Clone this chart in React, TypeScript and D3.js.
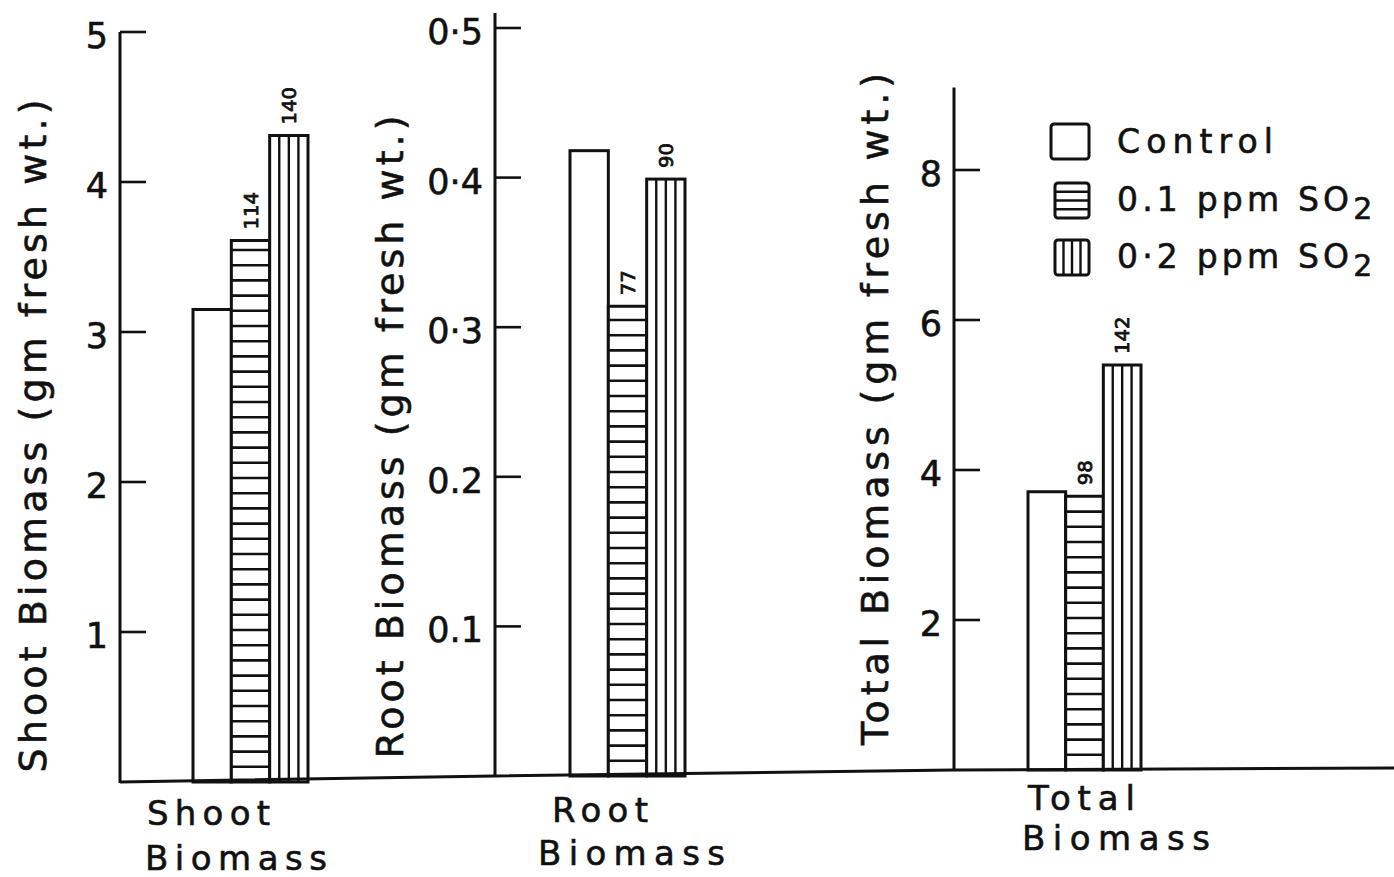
import React from 'react'
import * as d3 from 'd3'

// treatments and the three measured quantities
const treatments = ['Control', '0.1 ppm SO2', '0.2 ppm SO2']
const categories = ['Shoot Biomass', 'Root Biomass', 'Total Biomass']

const shootValues = [3.15, 3.61, 4.31]
const rootValues = [0.418, 0.314, 0.399]
const totalValues = [3.71, 3.65, 5.4]

// percent of control printed above the treated bars
const shootPercent = ['', '114', '140']
const rootPercent = ['', '77', '90']
const totalPercent = ['', '98', '142']

const shootTicks = [1, 2, 3, 4, 5]
const rootTicks = [0.1, 0.2, 0.3, 0.4, 0.5]
const rootTickLabels = ['0.1', '0.2', '0·3', '0·4', '0·5']
const totalTicks = [2, 4, 6, 8]

const FONT = '"DejaVu Sans", "Liberation Sans", sans-serif'
const INK = '#111'

const panels = [
  {
    key: 'shoot', values: shootValues, pct: shootPercent, ticks: shootTicks,
    tickLabels: shootTicks.map(String), domain: [0, 5], axisTopValue: 5,
    axisX: 120, yRange: [782, 32], barRange: [193, 308],
    title: 'Shoot Biomass (gm fresh wt.)', titleX: 33, titleY: 436, titleLen: 673,
    cat: [['Shoot', 147, 825, 123], ['Biomass', 145, 870, 182]],
  },
  {
    key: 'root', values: rootValues, pct: rootPercent, ticks: rootTicks,
    tickLabels: rootTickLabels, domain: [0, 0.5], axisTopValue: 0.51,
    axisX: 495, yRange: [776, 28], barRange: [570, 685],
    title: 'Root Biomass (gm fresh wt.)', titleX: 390, titleY: 437, titleLen: 643,
    cat: [['Root', 552, 822, 96], ['Biomass', 538, 865, 187]],
  },
  {
    key: 'total', values: totalValues, pct: totalPercent, ticks: totalTicks,
    tickLabels: totalTicks.map(String), domain: [0, 8], axisTopValue: 9.1,
    axisX: 954, yRange: [770, 170], barRange: [1028, 1141],
    title: 'Total Biomass (gm fresh wt.)', titleX: 875, titleY: 409, titleLen: 672,
    cat: [['Total', 1028, 810, 107], ['Biomass', 1022, 850, 188]],
  },
]

// scanned lettering is a bit heavier than the plain font
const inkText = { fill: INK, stroke: INK, strokeWidth: 0.6, fontFamily: FONT }

function Hatch({ kind, x, y, w, h, step }: any) {
  if (kind === 1) {
    const ys = d3.range(y + h - step, y + 4, -step)
    return <g>{ys.map((yy, i) => <line key={i} x1={x} x2={x + w} y1={yy} y2={yy} stroke={INK} strokeWidth={2.6} />)}</g>
  }
  if (kind === 2) {
    const xs = [1, 2, 3].map(i => x + (w * i) / 4)
    return <g>{xs.map((xx, i) => <line key={i} x1={xx} x2={xx} y1={y} y2={y + h} stroke={INK} strokeWidth={2.4} />)}</g>
  }
  return null
}

function Panel({ p }: any) {
  const y = d3.scaleLinear().domain(p.domain).range(p.yRange)
  const x = d3.scaleBand<number>().domain([0, 1, 2]).range(p.barRange).padding(0)
  const y0 = y(0)
  return (
    <g>
      {/* axis */}
      <line x1={p.axisX} x2={p.axisX} y1={y(p.axisTopValue)} y2={y0 + 1} stroke={INK} strokeWidth={3} />
      {p.ticks.map((t: number, i: number) => (
        <g key={i}>
          <line x1={p.axisX} x2={p.axisX + 26} y1={y(t)} y2={y(t)} stroke={INK} strokeWidth={2.6} />
          <text x={p.axisX - 12} y={y(t) + 4} textAnchor="end" dominantBaseline="central"
            fontSize={35} {...inkText}>{p.tickLabels[i]}</text>
        </g>
      ))}
      {/* bars */}
      {p.values.map((v: number, i: number) => {
        const bx = x(i) as number
        const bw = x.bandwidth()
        const top = y(v)
        return (
          <g key={i}>
            <rect x={bx} y={top} width={bw} height={y0 - top} fill="#fff" stroke={INK} strokeWidth={3} />
            <Hatch kind={i} x={bx} y={top} w={bw} h={y0 - top} step={15.2} />
            {p.pct[i] && (
              <text transform={`translate(${bx + bw / 2},${top - 11}) rotate(-90)`} dominantBaseline="central"
                fontSize={19} {...inkText} strokeWidth={0.8} textLength={p.pct[i].length * 12.5}
                lengthAdjust="spacingAndGlyphs">{p.pct[i]}</text>
            )}
          </g>
        )
      })}
      {/* y title */}
      <text transform={`translate(${p.titleX},${p.titleY}) rotate(-90)`} textAnchor="middle"
        dominantBaseline="central" fontSize={38} {...inkText}
        textLength={p.titleLen} lengthAdjust="spacing">{p.title}</text>
      {/* category label */}
      {p.cat.map((c: any, i: number) => (
        <text key={i} x={c[1]} y={c[2]} fontSize={34} {...inkText}
          textLength={c[3]} lengthAdjust="spacing">{c[0]}</text>
      ))}
    </g>
  )
}

function Legend() {
  const rows = [124, 183, 240]
  const base = [153, 211, 268]
  const lens = [156, 250, 250]
  return (
    <g>
      {treatments.map((t, i) => {
        const bx = i === 0 ? 1051 : 1055
        const bw = i === 0 ? 38 : 34
        const parts = t.split('SO2')
        const label = i === 2 ? t.replace('0.2', '0·2') : t
        return (
          <g key={t}>
            <rect x={bx} y={rows[i]} width={bw} height={35} rx={3} fill="#fff" stroke={INK} strokeWidth={3} />
            <Hatch kind={i} x={bx} y={rows[i]} w={bw} h={35} step={35 / 4} />
            <text x={1117} y={base[i]} fontSize={33} {...inkText}>
              {parts.length > 1 ? (
                <>
                  <tspan textLength={lens[i] - 18} lengthAdjust="spacing">{label.replace('SO2', 'SO')}</tspan>
                  <tspan dy={8} fontSize={30}>2</tspan>
                </>
              ) : (
                <tspan textLength={lens[i]} lengthAdjust="spacing">{label}</tspan>
              )}
            </text>
          </g>
        )
      })}
    </g>
  )
}

export default function App() {
  const zeros = panels.map(p => d3.scaleLinear().domain(p.domain).range(p.yRange)(0))
  const baseline = d3.line()([
    [120, zeros[0]], [495, zeros[1]], [954, zeros[2]], [1394, zeros[2] - 2],
  ] as [number, number][])
  return (
    <svg width={1394} height={877} style={{ position: 'absolute', left: 0, top: 0, background: '#fff' }}>
      <rect width={1394} height={877} fill="#fff" />
      {panels.map(p => <Panel key={p.key} p={p} />)}
      <path d={baseline || ''} fill="none" stroke={INK} strokeWidth={3} />
      <Legend />
    </svg>
  )
}
